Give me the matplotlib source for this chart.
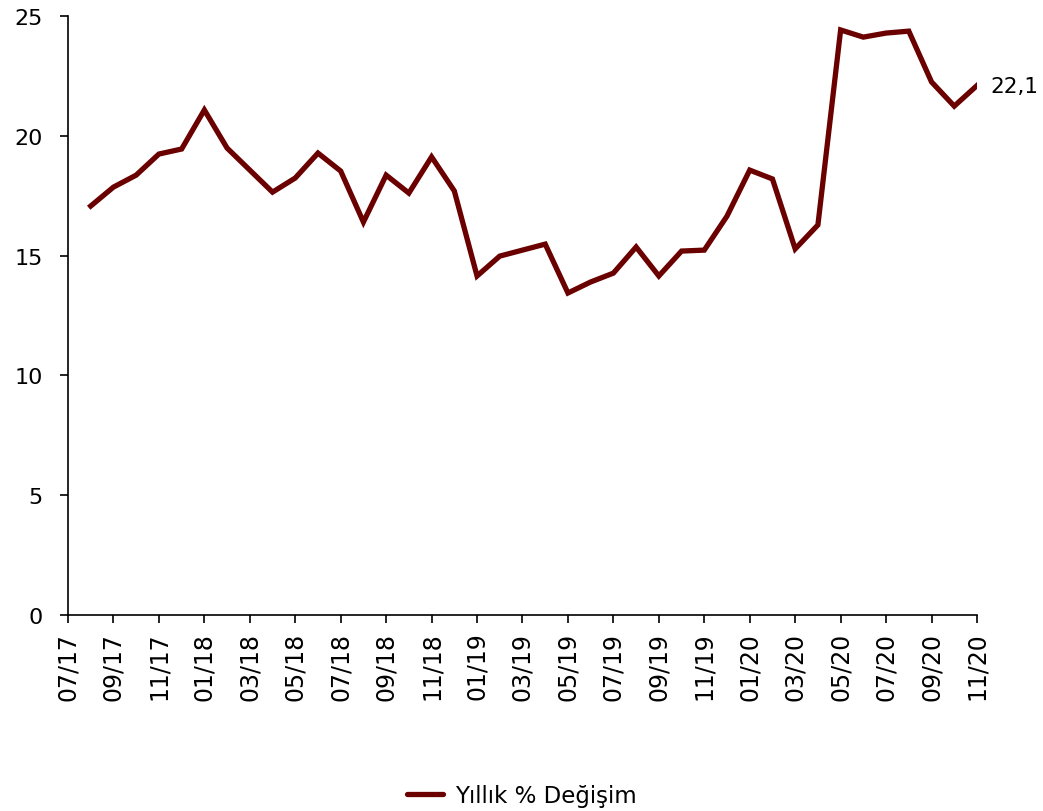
import matplotlib.pyplot as plt
import numpy as np

TICK_LABELS = ["07/17", "09/17", "11/17", "01/18", "03/18", "05/18", "07/18",
               "09/18", "11/18", "01/19", "03/19", "05/19", "07/19", "09/19",
               "11/19", "01/20", "03/20", "05/20", "07/20", "09/20", "11/20"]
# monthly values, 08/17 .. 11/20
VALUES = [17.07, 17.86, 18.36, 19.24, 19.45, 21.08, 19.49, 18.57, 17.65, 18.24,
          19.28, 18.53, 16.40, 18.36, 17.61, 19.12, 17.70, 14.15, 14.98, 15.23,
          15.48, 13.44, 13.90, 14.27, 15.36, 14.15, 15.19, 15.23, 16.65, 18.57,
          18.20, 15.28, 16.28, 24.42, 24.12, 24.29, 24.37, 22.25, 21.24, 22.10]
LAST_LABEL = "22,1"
SERIES = "Yıllık % Değişim"

plt.rcParams["font.family"] = "DejaVu Sans"
fig = plt.figure(figsize=(10.43, 8.12), dpi=100)
ax = fig.add_axes([0.0652, 0.2414, 0.8715, 0.7376])

months = np.arange(1, len(VALUES) + 1)
ax.plot(months, VALUES, color="#6b0000", lw=3.8, solid_joinstyle="miter",
        label=SERIES)
ax.annotate(LAST_LABEL, (months[-1], VALUES[-1]), xytext=(10, 0),
            textcoords="offset points", va="center", fontsize=15.5)

ax.set_xlim(0, 40)
ax.set_ylim(0, 25)
ax.set_xticks(np.arange(0, 41, 2))
ax.set_xticklabels(TICK_LABELS, rotation=90, fontsize=17)
ax.set_yticks(np.arange(0, 26, 5))
ax.tick_params(axis="y", labelsize=16, length=6, width=1.2, pad=12)
ax.tick_params(axis="x", length=6, width=1.2, pad=6)
for s in ["top", "right"]:
    ax.spines[s].set_visible(False)
for s in ["left", "bottom"]:
    ax.spines[s].set_linewidth(1.2)

leg = fig.legend(loc="lower center", bbox_to_anchor=(0.5, -0.02), frameon=False,
                 fontsize=16.5, handlelength=1.6, handletextpad=0.5)
for h in leg.get_lines():
    h.set_solid_capstyle("round")

fig.savefig("out.png", dpi=100)
